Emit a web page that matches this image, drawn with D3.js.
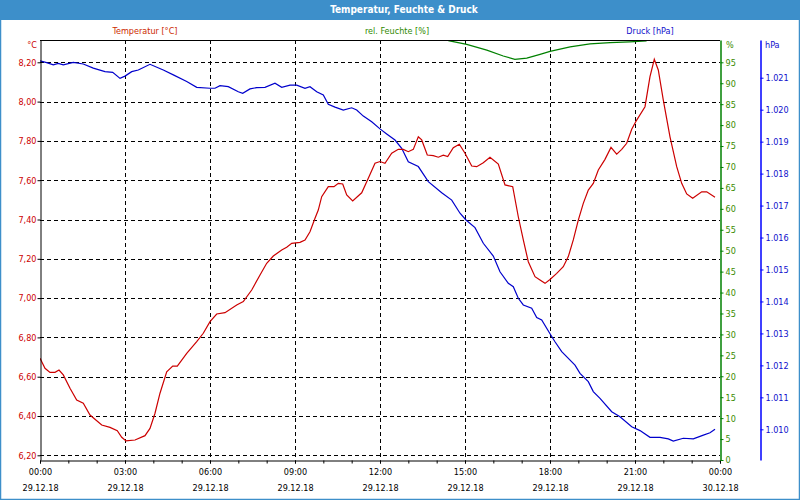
<!DOCTYPE html>
<html><head><meta charset="utf-8">
<script src="https://cdn.jsdelivr.net/npm/d3@7"></script>
<style>
body{margin:0;background:#fff;}
svg{display:block;font-family:"DejaVu Sans Condensed","DejaVu Sans",sans-serif;}
</style></head>
<body><svg id="c" width="800" height="500"></svg>
<script>
const title = "Temperatur, Feuchte & Druck";
const seriesNames = ["Temperatur [°C]", "rel. Feuchte [%]", "Druck [hPa]"];
const timeTicks = [0, 3, 6, 9, 12, 15, 18, 21, 24];
const timeLabels = ["00:00","03:00","06:00","09:00","12:00","15:00","18:00","21:00","00:00"];
const dateLabels = ["29.12.18","29.12.18","29.12.18","29.12.18","29.12.18","29.12.18","29.12.18","29.12.18","30.12.18"];
const tempTicks = [6.2, 6.4, 6.6, 6.8, 7.0, 7.2, 7.4, 7.6, 7.8, 8.0, 8.2];
const humTicks = [0,5,10,15,20,25,30,35,40,45,50,55,60,65,70,75,80,85,90,95];
const pressTicks = [1010,1011,1012,1013,1014,1015,1016,1017,1018,1019,1020,1021];

const tempHours = [0,0.176,0.353,0.529,0.671,0.822,1.059,1.295,1.528,1.765,2.178,2.471,2.728,2.884,3.035,3.353,3.706,3.882,4.059,4.235,4.472,4.684,4.846,5.178,5.531,5.763,6.0,6.236,6.529,6.942,7.175,7.472,7.765,8.001,8.234,8.531,8.707,8.884,9.176,9.353,9.529,9.706,9.822,9.942,10.175,10.376,10.528,10.684,10.825,11.036,11.354,11.587,11.824,12.0,12.176,12.413,12.646,12.822,12.999,13.175,13.352,13.472,13.669,13.881,14.058,14.234,14.39,14.587,14.799,15.0,15.237,15.413,15.646,15.882,16.176,16.412,16.684,16.881,17.058,17.234,17.471,17.647,17.824,18.0,18.237,18.469,18.646,18.822,18.999,19.175,19.352,19.528,19.705,19.941,20.153,20.354,20.531,20.707,20.884,21.06,21.353,21.529,21.681,21.822,21.999,22.235,22.472,22.648,22.825,23.036,23.354,23.531,23.824];
const tempValues = [6.694,6.643,6.622,6.622,6.634,6.609,6.541,6.481,6.465,6.405,6.354,6.342,6.325,6.292,6.273,6.278,6.300,6.337,6.414,6.516,6.625,6.654,6.654,6.719,6.778,6.821,6.880,6.919,6.926,6.965,6.982,7.041,7.118,7.177,7.214,7.245,7.259,7.279,7.284,7.296,7.338,7.406,7.448,7.516,7.567,7.567,7.584,7.581,7.525,7.494,7.536,7.610,7.686,7.695,7.686,7.737,7.757,7.757,7.745,7.757,7.821,7.805,7.728,7.725,7.717,7.727,7.720,7.765,7.783,7.737,7.672,7.669,7.689,7.717,7.682,7.576,7.567,7.414,7.296,7.185,7.109,7.092,7.075,7.095,7.126,7.160,7.211,7.296,7.397,7.482,7.550,7.584,7.652,7.706,7.767,7.733,7.757,7.788,7.859,7.906,7.974,8.127,8.215,8.161,8.008,7.821,7.669,7.584,7.530,7.508,7.541,7.541,7.513];

const pressHours = [0,0.236,0.469,0.646,0.822,1.175,1.528,1.881,2.294,2.566,2.824,3.0,3.236,3.469,3.882,4.352,4.705,5.178,5.531,6.0,6.176,6.353,6.646,6.999,7.154,7.412,7.648,7.941,8.294,8.531,8.824,9.06,9.353,9.529,9.766,9.999,10.175,10.412,10.705,11.001,11.178,11.411,11.707,12.0,12.236,12.529,12.766,12.999,13.352,13.705,14.178,14.531,14.824,15.035,15.353,15.646,15.999,16.235,16.528,16.705,16.881,17.058,17.354,17.531,17.707,18.0,18.176,18.413,18.882,19.059,19.352,19.528,19.765,20.178,20.471,20.884,21.176,21.529,21.882,22.175,22.352,22.705,23.058,23.413,23.647,23.824];
const pressValues = [1021.53,1021.47,1021.40,1021.45,1021.40,1021.48,1021.43,1021.30,1021.19,1021.17,1020.98,1021.05,1021.19,1021.24,1021.42,1021.24,1021.09,1020.88,1020.70,1020.67,1020.67,1020.75,1020.72,1020.56,1020.51,1020.65,1020.69,1020.70,1020.83,1020.70,1020.77,1020.77,1020.67,1020.72,1020.56,1020.46,1020.17,1020.08,1019.99,1020.06,1019.99,1019.80,1019.62,1019.40,1019.24,1019.05,1018.79,1018.37,1018.22,1017.75,1017.40,1017.17,1016.76,1016.55,1016.31,1015.82,1015.42,1014.93,1014.57,1014.46,1014.10,1013.89,1013.79,1013.50,1013.42,1012.99,1012.74,1012.43,1012.01,1011.75,1011.49,1011.18,1010.97,1010.55,1010.39,1010.08,1009.96,1009.75,1009.75,1009.70,1009.63,1009.72,1009.70,1009.82,1009.89,1010.00];

const humHours = [14.41,15.06,15.77,16.35,16.76,17.18,17.65,18.0,18.71,19.41,20.12,20.82,21.41];
const humValues = [100.2,99.3,97.9,96.5,95.7,96.0,96.9,97.6,98.7,99.4,99.7,99.9,100.1];

const C_T = "#cc0000", C_H = "#008000", C_P = "#0000cc", C_PA = "#0000ff", C_BAR = "#3d8fca";
const de = d3.formatLocale({decimal: ",", thousands: ".", grouping: [3], currency: ["", " €"]});
const fT = de.format(".2f"), fP = de.format(",d");

const svg = d3.select("#c");
const L = 40, R = 720, T = 40, B = 460;

const x = d3.scaleLinear().domain([0, 24]).range([L, R]);
const yT = d3.scaleLinear().domain([6.1761, 8.3135]).range([B, T]);
const yH = d3.scaleLinear().domain([0, 100.33]).range([B, T]);
const yP = d3.scaleLinear().domain([1009.04, 1022.18]).range([B, T]);

// frame & title bar
svg.append("rect").attr("x", 0.5).attr("y", 0.5).attr("width", 799).attr("height", 499)
  .attr("fill", "#fff").attr("stroke", C_BAR).attr("stroke-width", 1.5);
svg.append("rect").attr("x", 0).attr("y", 0).attr("width", 800).attr("height", 20).attr("fill", C_BAR);
svg.append("text").attr("x", 404).attr("y", 9.5).attr("text-anchor", "middle").attr("dominant-baseline", "central")
  .attr("fill", "#fff").attr("font-weight", "bold").attr("font-size", 10).text(title);

// legend labels
const legendX = [145, 397, 650], legendC = ["#cc2a00", "#2f8a00", "#1010cc"];
seriesNames.forEach((n, i) => {
  svg.append("text").attr("x", legendX[i]).attr("y", 31).attr("text-anchor", "middle")
    .attr("dominant-baseline", "central").attr("font-size", 9).attr("fill", legendC[i]).text(n);
});

// grid
const grid = svg.append("g").attr("stroke", "#000").attr("stroke-width", 1).attr("stroke-dasharray", "4,3")
  .attr("shape-rendering", "crispEdges");
grid.selectAll("line.h").data(tempTicks).join("line")
  .attr("x1", L).attr("x2", R).attr("y1", d => Math.round(yT(d)) + 0.5).attr("y2", d => Math.round(yT(d)) + 0.5);
grid.selectAll("line.v").data(timeTicks.slice(1, -1)).join("line")
  .attr("y1", T).attr("y2", B).attr("x1", d => Math.round(x(d)) + 0.5).attr("x2", d => Math.round(x(d)) + 0.5);

// clip
svg.append("clipPath").attr("id", "clip").append("rect").attr("x", L).attr("y", T).attr("width", R - L).attr("height", B - T);
const plot = svg.append("g").attr("clip-path", "url(#clip)");

const lineOf = (xs, ys, yScale) => d3.line().x((d, i) => x(xs[i])).y((d, i) => yScale(ys[i]))(xs);
plot.append("path").attr("d", lineOf(humHours, humValues, yH)).attr("fill", "none").attr("stroke", C_H).attr("stroke-width", 1.2);
plot.append("path").attr("d", lineOf(pressHours, pressValues, yP)).attr("fill", "none").attr("stroke", C_P).attr("stroke-width", 1.2);
plot.append("path").attr("d", lineOf(tempHours, tempValues, yT)).attr("fill", "none").attr("stroke", C_T).attr("stroke-width", 1.2);

// plot frame top
svg.append("line").attr("x1", L).attr("x2", R).attr("y1", T + 0.5).attr("y2", T + 0.5).attr("stroke", "#000").attr("shape-rendering", "crispEdges");

// left temperature axis
const axT = svg.append("g").attr("transform", `translate(${L + 0.5},0)`)
  .call(d3.axisLeft(yT).tickValues(tempTicks).tickSize(3).tickSizeOuter(0).tickFormat(fT));
axT.select(".domain").attr("stroke", "#000");
axT.selectAll(".tick line").attr("stroke", "#000");
axT.selectAll("text").attr("fill", C_T).attr("font-size", 9).attr("x", -4).attr("font-family", null);
axT.attr("font-family", null);
svg.append("text").attr("x", 37).attr("y", 45).attr("text-anchor", "end").attr("dominant-baseline", "central")
  .attr("font-size", 9).attr("fill", C_T).text("°C");

// bottom time axis
const axMinor = svg.append("g").attr("transform", `translate(0,${B + 0.5})`)
  .call(d3.axisBottom(x).tickValues(d3.range(0, 25)).tickSize(3).tickSizeOuter(0).tickFormat(""));
axMinor.select(".domain").attr("stroke", "#000");
const axX = svg.append("g").attr("transform", `translate(0,${B + 0.5})`)
  .call(d3.axisBottom(x).tickValues(timeTicks).tickSize(3).tickSizeOuter(0).tickFormat((d, i) => timeLabels[i]));
axX.attr("font-family", null);
axX.select(".domain").remove();
axX.selectAll(".tick text").attr("font-size", 9).attr("fill", "#000").attr("y", 8).attr("dy", "0.71em")
  .each(function(d, i) {
    d3.select(this).append("tspan").attr("x", 0).attr("dy", "1.75em").text(dateLabels[i]);
  });

// humidity axis
const axH = svg.append("g").attr("transform", `translate(${R + 0.5},0)`)
  .call(d3.axisRight(yH).tickValues(humTicks).tickSize(3).tickSizeOuter(0).tickFormat(d3.format("d")));
axH.attr("font-family", null);
axH.select(".domain").attr("stroke", C_H).attr("stroke-width", 1.5);
axH.selectAll(".tick line").attr("stroke", C_H);
axH.selectAll("text").attr("fill", "#3a8a00").attr("font-size", 9).attr("x", 5);
svg.append("text").attr("x", 726).attr("y", 45).attr("dominant-baseline", "central")
  .attr("font-size", 9).attr("fill", "#3a8a00").text("%");

// pressure axis
const axP = svg.append("g").attr("transform", `translate(760.5,0)`)
  .call(d3.axisRight(yP).tickValues(pressTicks).tickSize(3).tickSizeOuter(0).tickFormat(fP));
axP.attr("font-family", null);
axP.select(".domain").attr("stroke", C_PA).attr("stroke-width", 1.5);
axP.selectAll(".tick line").attr("stroke", C_PA);
axP.selectAll("text").attr("fill", "#1010cc").attr("font-size", 9).attr("x", 5);
svg.append("text").attr("x", 765).attr("y", 45).attr("dominant-baseline", "central")
  .attr("font-size", 9).attr("fill", "#1010cc").text("hPa");
</script></body></html>
